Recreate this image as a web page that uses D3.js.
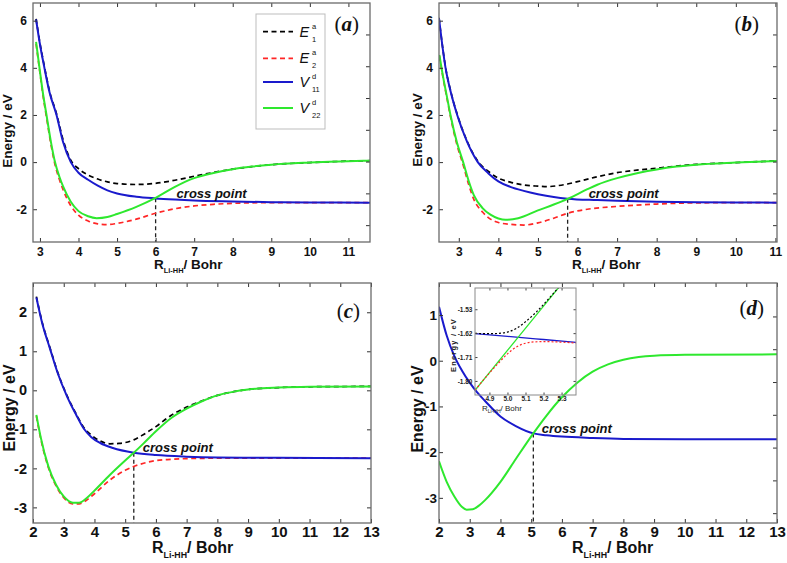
<!DOCTYPE html>
<html><head><meta charset="utf-8">
<script src="https://cdn.jsdelivr.net/npm/d3@7"></script>
<style>body{margin:0;background:#fff}svg{display:block}</style>
</head><body><svg width="787" height="563"></svg>
<script>
// ---------- DATA ----------
// Panel (a)
const a_V11 = [[2.9,6.05],[3.0,5.0],[3.11,4.05],[3.25,2.95],[3.43,2.0],[3.6,0.85],[3.8,0.0],[4.0,-0.45],[4.25,-0.75],[4.5,-1.0],[4.75,-1.2],[5.0,-1.33],[5.5,-1.47],[6.0,-1.54],[6.5,-1.59],[7.0,-1.63],[8.0,-1.67],[9.0,-1.70],[10.0,-1.71],[11.56,-1.72]];
const a_V22 = [[2.9,5.1],[3.0,3.85],[3.08,2.9],[3.17,2.0],[3.28,0.9],[3.39,0.0],[3.5,-0.6],[3.6,-1.03],[3.8,-1.68],[4.0,-2.08],[4.25,-2.3],[4.47,-2.38],[4.75,-2.33],[5.0,-2.2],[5.5,-1.9],[6.0,-1.52],[6.5,-1.05],[7.0,-0.68],[7.5,-0.46],[8.0,-0.3],[8.5,-0.19],[9.0,-0.11],[10.0,-0.02],[11.0,0.04],[11.56,0.06]];
const a_E1 = [[2.9,6.08],[3.0,5.05],[3.11,4.1],[3.25,3.0],[3.43,2.05],[3.6,0.95],[3.8,0.08],[4.0,-0.28],[4.25,-0.55],[4.5,-0.72],[4.75,-0.84],[5.0,-0.91],[5.5,-0.95],[6.0,-0.9],[6.5,-0.77],[7.0,-0.6],[7.5,-0.44],[8.0,-0.3],[8.5,-0.19],[9.0,-0.11],[10.0,-0.02],[11.0,0.04],[11.56,0.06]];
const a_E2 = [[2.9,5.02],[3.0,3.78],[3.08,2.82],[3.17,1.9],[3.28,0.8],[3.39,-0.1],[3.5,-0.72],[3.6,-1.17],[3.8,-1.85],[4.0,-2.25],[4.25,-2.5],[4.5,-2.62],[4.75,-2.65],[5.0,-2.6],[5.5,-2.42],[6.0,-2.17],[6.5,-1.98],[7.0,-1.86],[7.5,-1.79],[8.0,-1.75],[9.0,-1.72],[10.0,-1.72],[11.56,-1.72]];
const a_cross = [6.0,-1.53];
// Panel (b)
const b_V11 = [[2.5,6.1],[2.58,5.0],[2.66,4.05],[2.8,2.95],[2.96,2.0],[3.2,0.9],[3.48,0.0],[3.75,-0.48],[4.0,-0.82],[4.3,-1.05],[4.64,-1.22],[5.0,-1.36],[5.4,-1.48],[5.75,-1.55],[6.5,-1.61],[7.0,-1.64],[8.0,-1.68],[9.0,-1.70],[10.0,-1.71],[11.04,-1.72]];
const b_V22 = [[2.51,4.55],[2.6,3.65],[2.7,2.78],[2.79,2.0],[2.95,0.85],[3.11,0.0],[3.25,-0.8],[3.38,-1.4],[3.6,-1.95],[3.8,-2.23],[4.0,-2.39],[4.18,-2.45],[4.5,-2.38],[5.0,-2.05],[5.4,-1.8],[5.75,-1.56],[6.25,-1.15],[6.5,-0.96],[7.0,-0.68],[7.5,-0.47],[8.0,-0.31],[8.5,-0.19],[9.0,-0.11],[10.0,-0.02],[11.04,0.05]];
const b_E1 = [[2.5,6.12],[2.58,5.02],[2.66,4.08],[2.8,2.98],[2.96,2.03],[3.2,0.93],[3.48,0.04],[3.75,-0.4],[4.0,-0.68],[4.3,-0.85],[4.64,-0.97],[5.0,-1.02],[5.23,-1.04],[5.5,-1.0],[5.75,-0.93],[6.0,-0.83],[6.5,-0.62],[7.0,-0.45],[7.5,-0.34],[8.0,-0.26],[8.5,-0.17],[9.0,-0.1],[10.0,-0.02],[11.04,0.05]];
const b_E2 = [[2.51,4.5],[2.6,3.6],[2.7,2.72],[2.79,1.93],[2.95,0.76],[3.11,-0.12],[3.25,-0.95],[3.38,-1.58],[3.6,-2.12],[3.8,-2.42],[4.0,-2.56],[4.3,-2.64],[4.64,-2.67],[5.0,-2.58],[5.4,-2.38],[5.75,-2.17],[6.25,-2.0],[7.0,-1.88],[8.0,-1.78],[9.0,-1.73],[10.0,-1.72],[11.04,-1.72]];
const b_cross = [5.75,-1.56];
// Panel (c)
const c_V11 = [[2.11,2.38],[2.3,1.72],[2.56,1.05],[2.8,0.45],[3.11,-0.16],[3.4,-0.62],[3.65,-0.98],[3.9,-1.2],[4.19,-1.35],[4.6,-1.48],[5.28,-1.6],[6.0,-1.66],[7.0,-1.7],[8.0,-1.72],[10.0,-1.73],[13.0,-1.74]];
const c_V22 = [[2.11,-0.63],[2.25,-1.2],[2.5,-1.95],[2.75,-2.42],[3.0,-2.72],[3.3,-2.88],[3.5,-2.88],[3.75,-2.76],[4.0,-2.57],[4.5,-2.17],[5.0,-1.8],[5.28,-1.6],[5.6,-1.36],[6.0,-1.05],[6.5,-0.71],[7.0,-0.47],[7.5,-0.28],[8.0,-0.13],[8.5,-0.04],[9.0,0.02],[10.0,0.07],[11.0,0.09],[13.0,0.1]];
const c_E1 = [[2.11,2.4],[2.3,1.74],[2.56,1.07],[2.8,0.47],[3.11,-0.14],[3.4,-0.6],[3.65,-0.95],[3.9,-1.15],[4.19,-1.3],[4.5,-1.37],[4.8,-1.36],[5.28,-1.27],[5.6,-1.13],[6.0,-0.93],[6.5,-0.64],[7.0,-0.43],[7.5,-0.27],[8.0,-0.13],[8.5,-0.04],[9.0,0.02],[10.0,0.07],[11.0,0.09],[13.0,0.1]];
const c_E2 = [[2.11,-0.66],[2.25,-1.23],[2.5,-1.98],[2.75,-2.45],[3.0,-2.75],[3.3,-2.91],[3.5,-2.91],[3.75,-2.81],[4.0,-2.65],[4.5,-2.3],[5.0,-2.05],[5.28,-1.95],[5.6,-1.87],[6.0,-1.8],[6.5,-1.77],[7.0,-1.75],[8.0,-1.74],[10.0,-1.74],[13.0,-1.74]];
const c_cross = [5.28,-1.6];
// Panel (d)
const d_V11 = [[2.0,1.18],[2.25,0.55],[2.5,0.1],[2.75,-0.22],[3.0,-0.48],[3.25,-0.7],[3.5,-0.88],[4.0,-1.22],[4.5,-1.43],[5.07,-1.59],[5.5,-1.63],[6.0,-1.66],[7.0,-1.69],[8.0,-1.71],[10.0,-1.72],[13.0,-1.72]];
const d_V22 = [[2.0,-2.2],[2.25,-2.65],[2.5,-2.97],[2.75,-3.2],[2.9,-3.26],[3.1,-3.25],[3.3,-3.17],[3.5,-3.05],[4.0,-2.65],[4.5,-2.15],[5.07,-1.59],[5.5,-1.2],[6.0,-0.8],[6.5,-0.48],[7.0,-0.24],[7.5,-0.08],[8.0,0.02],[8.5,0.08],[9.0,0.11],[10.0,0.13],[13.0,0.14]];
const d_cross = [5.07,-1.59];
// Inset of (d)
const i_V11 = [[4.82,-1.622],[5.0,-1.632],[5.2,-1.644],[5.38,-1.655]];
const i_V22 = [[4.82,-1.835],[5.0,-1.685],[5.2,-1.518],[5.3,-1.435]];
const i_E1 = [[4.82,-1.621],[4.9,-1.622],[4.95,-1.621],[5.0,-1.616],[5.05,-1.602],[5.1,-1.577],[5.15,-1.547],[5.2,-1.512],[5.25,-1.474],[5.3,-1.435]];
const i_E2 = [[4.82,-1.835],[4.9,-1.77],[4.95,-1.733],[5.0,-1.698],[5.05,-1.672],[5.1,-1.658],[5.15,-1.653],[5.2,-1.652],[5.3,-1.654],[5.38,-1.657]];
// Ticks
const ticksX_ab = [3,4,5,6,7,8,9,10,11];
const ticksX_cd = [2,3,4,5,6,7,8,9,10,11,12,13];
const ticksY_ab = [-2,0,2,4,6];
const ticksY_c = [-3,-2,-1,0,1,2];
const ticksY_d = [-3,-2,-1,0,1];
const ticksRight = [0,1,2,3,4,5,6];
const insetTicksX = [4.9,5.0,5.1,5.2,5.3];
const insetTicksY = [-1.80,-1.71,-1.62,-1.53];
const legendNames = [["E","a","1"],["E","a","2"],["V","d","11"],["V","d","22"]];
const panelLetters = ["a","b","c","d"];

// ---------- DRAWING ----------
const SANS = '"Liberation Sans", Arial, Helvetica, sans-serif';
const SERIF = '"Liberation Serif", "Times New Roman", serif';
const COL = {E1:'#000000', E2:'#ff2626', V11:'#1a1acc', V22:'#2ee82e'};
const svg = d3.select('svg');

function drawPanel(cfg){
  const g = svg.append('g');
  const x = d3.scaleLinear().domain(cfg.xDom).range([cfg.l, cfg.r]);
  const y = d3.scaleLinear().domain(cfg.yDom).range([cfg.b, cfg.t]);
  const id = 'clip' + cfg.letter;
  svg.append('clipPath').attr('id', id).append('rect')
    .attr('x', cfg.l).attr('y', cfg.t).attr('width', cfg.r - cfg.l).attr('height', cfg.b - cfg.t);
  const line = d3.line().x(d => x(d[0])).y(d => y(d[1])).curve(d3.curveMonotoneX);
  const cg = g.append('g').attr('clip-path', `url(#${id})`);
  cg.append('line').attr('x1', x(cfg.cross[0])).attr('x2', x(cfg.cross[0]))
    .attr('y1', y(cfg.cross[1])).attr('y2', cfg.b)
    .attr('stroke', '#222').attr('stroke-width', 1.3).attr('stroke-dasharray', '4,3');
  [['E1', cfg.E1], ['E2', cfg.E2]].forEach(([k, data]) => {
    if (!data) return;
    cg.append('path').datum(data).attr('d', line).attr('fill', 'none')
      .attr('stroke', COL[k]).attr('stroke-width', 1.7).attr('stroke-dasharray', '5,3.5');
  });
  [['V11', cfg.V11], ['V22', cfg.V22]].forEach(([k, data]) => {
    cg.append('path').datum(data).attr('d', line).attr('fill', 'none')
      .attr('stroke', COL[k]).attr('stroke-width', 2);
  });

  const styleAxis = sel => {
    sel.select('.domain').remove();
    sel.selectAll('.tick line').attr('stroke', '#333').attr('stroke-width', 1);
    sel.selectAll('.tick text').attr('font-family', SANS).attr('font-weight', 'bold')
      .attr('font-size', cfg.tickFont).attr('fill', '#111');
  };
  g.append('g').attr('transform', `translate(0,${cfg.b})`)
    .call(d3.axisBottom(x).tickValues(cfg.xTicks).tickSize(-4).tickPadding(cfg.xPad).tickFormat(d => String(d)))
    .call(styleAxis);
  g.append('g').attr('transform', `translate(0,${cfg.t})`)
    .call(d3.axisTop(x).tickValues(cfg.xTicks).tickSize(-4).tickFormat(''))
    .call(styleAxis);
  g.append('g').attr('transform', `translate(${cfg.l},0)`)
    .call(d3.axisLeft(y).tickValues(cfg.yTicks).tickSize(-4).tickPadding(cfg.yPad).tickFormat(d => String(d)))
    .call(styleAxis)
    .call(s => s.selectAll('.tick text').attr('font-size', cfg.yTickFont));
  const ry = cfg.rightDom ? d3.scaleLinear().domain(cfg.rightDom).range([cfg.b, cfg.t]) : y;
  g.append('g').attr('transform', `translate(${cfg.r},0)`)
    .call(d3.axisRight(ry).tickValues(cfg.rightDom ? ticksRight : cfg.yTicks).tickSize(-4).tickFormat(''))
    .call(styleAxis);
  g.append('rect').attr('x', cfg.l).attr('y', cfg.t).attr('width', cfg.r - cfg.l).attr('height', cfg.b - cfg.t)
    .attr('fill', 'none').attr('stroke', '#6a6a6a').attr('stroke-width', 1.3);

  g.append('text').attr('transform', `translate(${cfg.eX},${cfg.eY}) rotate(-90)`)
    .attr('text-anchor', 'middle').attr('font-family', SANS).attr('font-weight', 'bold')
    .attr('font-size', cfg.titleFont).attr('fill', '#111').text('Energy / eV');
  const xt = g.append('text').attr('x', cfg.rX).attr('y', cfg.rY).attr('font-family', SANS)
    .attr('font-weight', 'bold').attr('font-size', cfg.titleFont).attr('fill', '#111');
  xt.append('tspan').text('R');
  xt.append('tspan').attr('font-size', cfg.titleFont * 0.55).attr('dy', cfg.titleFont * 0.3).text('Li-HH');
  xt.append('tspan').attr('dy', -cfg.titleFont * 0.3).text('/ Bohr');

  g.append('text').attr('x', x(cfg.cross[0]) + cfg.cpDx).attr('y', y(cfg.cross[1]) + cfg.cpDy)
    .attr('font-family', SANS).attr('font-weight', 'bold').attr('font-style', 'italic')
    .attr('font-size', 13).attr('fill', '#111').text('cross point');

  const pl = g.append('text').attr('x', cfg.lbX).attr('y', cfg.lbY).attr('text-anchor', 'end')
    .attr('font-family', SERIF).attr('font-size', 21).attr('fill', '#111');
  pl.append('tspan').text('(');
  pl.append('tspan').attr('font-weight', 'bold').attr('font-style', 'italic').text(cfg.letter);
  pl.append('tspan').text(')');
  return {x, y, g};
}

drawPanel({letter: panelLetters[0], l: 33, t: 3, r: 370, b: 242, xDom: [2.82, 11.56], yDom: [-3.39, 6.75],
  xTicks: ticksX_ab, yTicks: ticksY_ab, rightDom: [-0.53, 6.99], tickFont: 12, yTickFont: 12, yPad: 6, xPad: 5, titleFont: 13.5,
  V11: a_V11, V22: a_V22, E1: a_E1, E2: a_E2, cross: a_cross, cpDx: 21, cpDy: 0,
  eX: 12, eY: 131, rX: 154, rY: 269, lbX: 359, lbY: 31});
drawPanel({letter: panelLetters[1], l: 439, t: 3, r: 777, b: 242, xDom: [2.5, 11.04], yDom: [-3.39, 6.75],
  xTicks: ticksX_ab, yTicks: ticksY_ab, rightDom: [-0.53, 6.99], tickFont: 12, yTickFont: 12, yPad: 6, xPad: 5, titleFont: 13.5,
  V11: b_V11, V22: b_V22, E1: b_E1, E2: b_E2, cross: b_cross, cpDx: 21, cpDy: -1,
  eX: 422, eY: 130, rX: 572, rY: 269, lbX: 759, lbY: 31});
drawPanel({letter: panelLetters[2], l: 33, t: 283, r: 371, b: 523, xDom: [2, 13], yDom: [-3.4, 2.75],
  xTicks: ticksX_cd, yTicks: ticksY_c, rightDom: null, tickFont: 15, yTickFont: 14.5, yPad: 6, xPad: 3.5, titleFont: 16,
  V11: c_V11, V22: c_V22, E1: c_E1, E2: c_E2, cross: c_cross, cpDx: 9, cpDy: -1,
  eX: 15, eY: 408, rX: 152, rY: 553, lbX: 360, lbY: 318});
drawPanel({letter: panelLetters[3], l: 439, t: 283, r: 777, b: 523, xDom: [2, 13], yDom: [-3.55, 1.70],
  xTicks: ticksX_cd, yTicks: ticksY_d, rightDom: [-0.3, 7.02], tickFont: 15, yTickFont: 13.5, yPad: 2, xPad: 3.5, titleFont: 16,
  V11: d_V11, V22: d_V22, E1: null, E2: null, cross: d_cross, cpDx: 8.5, cpDy: 0,
  eX: 423, eY: 409, rX: 572, rY: 553, lbX: 764, lbY: 315});

// ---------- Legend in (a) ----------
(function(){
  const lg = svg.append('g');
  lg.append('rect').attr('x', 256).attr('y', 14).attr('width', 69).attr('height', 115)
    .attr('fill', '#fff').attr('stroke', '#bdbdbd').attr('stroke-width', 1);
  const rows = [31.7, 58.3, 82, 108];
  const keys = ['E1', 'E2', 'V11', 'V22'];
  keys.forEach((k, i) => {
    const yy = rows[i];
    lg.append('line').attr('x1', 263).attr('x2', 293).attr('y1', yy).attr('y2', yy)
      .attr('stroke', COL[k]).attr('stroke-width', k[0] === 'E' ? 1.7 : 2)
      .attr('stroke-dasharray', k[0] === 'E' ? '5,3.5' : null);
    const nm = legendNames[i];
    lg.append('text').attr('x', 299.5).attr('y', yy + 5).attr('font-family', SANS).attr('font-style', 'italic')
      .attr('font-size', 14.5).attr('fill', '#111').text(nm[0]);
    lg.append('text').attr('x', 312).attr('y', yy - 3).attr('font-family', SANS)
      .attr('font-size', 7.5).attr('fill', '#111').text(nm[1]);
    lg.append('text').attr('x', 312).attr('y', yy + 10).attr('font-family', SANS)
      .attr('font-size', 7.5).attr('fill', '#111').text(nm[2]);
  });
})();

// ---------- Inset in (d) ----------
(function(){
  const L = 475, T = 288, R = 576, B = 395;
  const g = svg.append('g');
  const x = d3.scaleLinear().domain([4.82, 5.38]).range([L, R]);
  const y = d3.scaleLinear().domain([-1.853, -1.45]).range([B, T]);
  svg.append('clipPath').attr('id', 'clipInset').append('rect')
    .attr('x', L).attr('y', T).attr('width', R - L).attr('height', B - T);
  const line = d3.line().x(d => x(d[0])).y(d => y(d[1])).curve(d3.curveMonotoneX);
  const cg = g.append('g').attr('clip-path', 'url(#clipInset)');
  cg.append('path').datum(i_V11).attr('d', line).attr('fill', 'none').attr('stroke', COL.V11).attr('stroke-width', 1.3);
  cg.append('path').datum(i_V22).attr('d', line).attr('fill', 'none').attr('stroke', COL.V22).attr('stroke-width', 1.3);
  cg.append('path').datum(i_E1).attr('d', line).attr('fill', 'none').attr('stroke', COL.E1).attr('stroke-width', 1.2).attr('stroke-dasharray', '2,2');
  cg.append('path').datum(i_E2).attr('d', line).attr('fill', 'none').attr('stroke', COL.E2).attr('stroke-width', 1.2).attr('stroke-dasharray', '2,2');
  const st = sel => {
    sel.select('.domain').remove();
    sel.selectAll('.tick line').attr('stroke', '#444');
    sel.selectAll('.tick text').attr('font-family', SANS).attr('font-weight', 'bold').attr('font-size', 6.5).attr('fill', '#222');
  };
  g.append('g').attr('transform', `translate(0,${B})`)
    .call(d3.axisBottom(x).tickValues(insetTicksX).tickSize(-2.5).tickPadding(1.5).tickFormat(d => d.toFixed(1))).call(st);
  g.append('g').attr('transform', `translate(0,${T})`)
    .call(d3.axisTop(x).tickValues(insetTicksX).tickSize(-2.5).tickFormat('')).call(st);
  g.append('g').attr('transform', `translate(${L},0)`)
    .call(d3.axisLeft(y).tickValues(insetTicksY).tickSize(-2.5).tickPadding(2.5).tickFormat(d => d.toFixed(2))).call(st);
  g.append('g').attr('transform', `translate(${R},0)`)
    .call(d3.axisRight(y).tickValues(insetTicksY).tickSize(-2.5).tickFormat('')).call(st);
  g.append('rect').attr('x', L).attr('y', T).attr('width', R - L).attr('height', B - T)
    .attr('fill', 'none').attr('stroke', '#8a8a8a').attr('stroke-width', 1);
  g.append('text').attr('transform', `translate(455.5,345) rotate(-90)`).attr('text-anchor', 'middle')
    .attr('font-family', SANS).attr('font-weight', 'bold').attr('font-size', 7.5).attr('letter-spacing', 1.2)
    .attr('fill', '#222').text('Energy / eV');
  const xt = g.append('text').attr('x', 482).attr('y', 411).attr('font-family', SANS)
    .attr('font-size', 8).attr('fill', '#222');
  xt.append('tspan').text('R');
  xt.append('tspan').attr('font-size', 5).attr('dy', 2).text('Li-HH');
  xt.append('tspan').attr('dy', -2).text('/ Bohr');
})();
</script>
</body></html>
